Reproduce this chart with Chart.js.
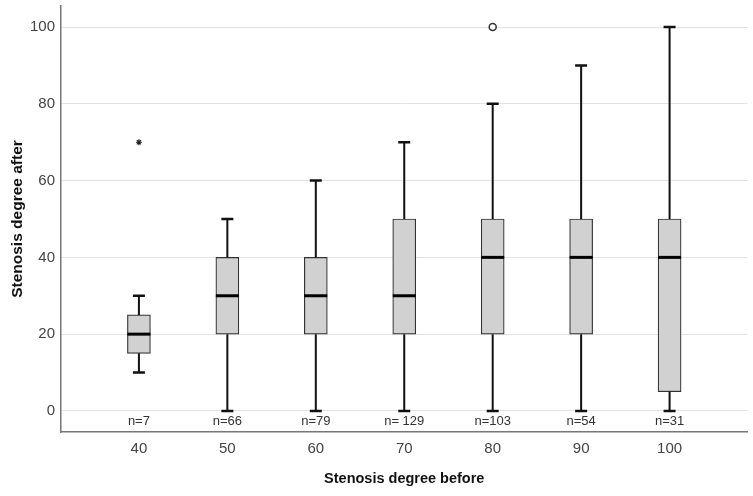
<!DOCTYPE html>
<html>
<head>
    <script src="https://cdn.jsdelivr.net/npm/chart.js@4"></script>
    <style>
        body { margin: 0; background: #fff; }
        #wrap { width: 753px; height: 496px; }
    </style>
</head>
<body>
 <div id="wrap">
  <canvas id="chart" width="753" height="496"></canvas>
 </div>
  <script>
    // stenosis degree before (groups)
    const before = [40, 50, 60, 70, 80, 90, 100];
    // five-number summaries of stenosis degree after
    const whiskerLow  = [10, 0, 0, 0, 0, 0, 0];
    const q1          = [15, 20, 20, 20, 20, 20, 5];
    const median      = [20, 30, 30, 30, 40, 40, 40];
    const q3          = [25, 40, 40, 50, 50, 50, 50];
    const whiskerHigh = [30, 50, 60, 70, 80, 90, 100];
    const counts = ['n=7', 'n=66', 'n=79', 'n= 129', 'n=103', 'n=54', 'n=31'];
    // outliers
    const extremeX = [40];
    const extremeY = [70];
    const outlierX = [80];
    const outlierY = [100];
    const yTicks = [0, 20, 40, 60, 80, 100];

    const boxPlugin = {
        id: 'boxExtras',
        afterDatasetsDraw(chart) {
            const ctx = chart.ctx;
            const xs = chart.scales.x, ys = chart.scales.y;
            const cap = 6, half = 11.5;
            ctx.save();
            ctx.strokeStyle = '#111';
            before.forEach((b, i) => {
                const x = xs.getPixelForValue(b);
                ctx.lineWidth = 2;
                ctx.beginPath();
                ctx.moveTo(x, ys.getPixelForValue(q3[i]));
                ctx.lineTo(x, ys.getPixelForValue(whiskerHigh[i]));
                ctx.moveTo(x, ys.getPixelForValue(q1[i]));
                ctx.lineTo(x, ys.getPixelForValue(whiskerLow[i]));
                ctx.stroke();
                ctx.lineWidth = 2.5;
                ctx.beginPath();
                ctx.moveTo(x - cap, ys.getPixelForValue(whiskerHigh[i]));
                ctx.lineTo(x + cap, ys.getPixelForValue(whiskerHigh[i]));
                ctx.moveTo(x - cap, ys.getPixelForValue(whiskerLow[i]));
                ctx.lineTo(x + cap, ys.getPixelForValue(whiskerLow[i]));
                ctx.stroke();
                ctx.lineWidth = 3;
                ctx.strokeStyle = '#000';
                ctx.beginPath();
                ctx.moveTo(x - half, ys.getPixelForValue(median[i]));
                ctx.lineTo(x + half, ys.getPixelForValue(median[i]));
                ctx.stroke();
                ctx.strokeStyle = '#111';
            });
            // n labels between zero line and the x axis
            ctx.fillStyle = '#333';
            ctx.font = '13px "Liberation Sans", Arial, sans-serif';
            ctx.textAlign = 'center';
            ctx.textBaseline = 'middle';
            const ny = (ys.getPixelForValue(0) + chart.chartArea.bottom) / 2;
            before.forEach((b, i) => {
                ctx.fillText(counts[i], xs.getPixelForValue(b), ny);
            });
            ctx.restore();
        }
    };

    const ctx = document.getElementById('chart');
    const chart = new Chart(ctx, {
        type: 'bar',
        data: {
            datasets: [{
                data: before.map((b, i) => ({ x: b, y: [q1[i], q3[i]] })),
                backgroundColor: '#d1d1d1',
                borderColor: '#333',
                borderWidth: 1.2,
                borderSkipped: false,
                barThickness: 23,
                order: 2
            }, {
                type: 'scatter',
                data: extremeX.map((x, i) => ({ x: x, y: extremeY[i] })),
                pointStyle: 'star',
                radius: 3,
                borderColor: '#222',
                borderWidth: 1.2,
                order: 1
            }, {
                type: 'scatter',
                data: outlierX.map((x, i) => ({ x: x, y: outlierY[i] })),
                pointStyle: 'circle',
                radius: 3.5,
                backgroundColor: '#fff',
                borderColor: '#333',
                borderWidth: 1.5,
                order: 1
            }]
        },
        plugins: [boxPlugin],
        options: {
            responsive: false,
            animation: false,
            layout: { padding: { top: 6, right: 5, left: 0, bottom: 0 } },
            plugins: {
                legend: { display: false },
                tooltip: { enabled: false }
            },
            scales: {
                x: {
                    type: 'linear',
                    min: 31.19,
                    max: 108.81,
                    offset: false,
                    afterBuildTicks: s => { s.ticks = before.map(v => ({ value: v })); },
                    afterFit: s => { s.height = 64; },
                    grid: { display: false, drawTicks: false },
                    border: { color: '#777', width: 1.5 },
                    ticks: {
                        color: '#444',
                        padding: 8,
                        font: { family: '"Liberation Sans", Arial, sans-serif', size: 15 }
                    },
                    title: {
                        display: true,
                        text: 'Stenosis degree before',
                        color: '#111',
                        padding: { top: 0, bottom: 8 },
                        font: { family: '"Liberation Sans", Arial, sans-serif', size: 14.5, weight: 'bold' }
                    }
                },
                y: {
                    min: -5.5,
                    max: 105.5,
                    afterBuildTicks: s => { s.ticks = yTicks.map(v => ({ value: v })); },
                    afterFit: s => { s.width = 61; s.paddingTop = 0; s.paddingBottom = 0; },
                    grid: { color: '#e3e3e3', drawTicks: false, lineWidth: 1 },
                    border: { color: '#777', width: 1.5 },
                    ticks: {
                        color: '#444',
                        padding: 6,
                        font: { family: '"Liberation Sans", Arial, sans-serif', size: 15 }
                    },
                    title: {
                        display: true,
                        text: 'Stenosis degree after',
                        color: '#111',
                        padding: { top: 8, bottom: 0 },
                        font: { family: '"Liberation Sans", Arial, sans-serif', size: 15.5, weight: 'bold' }
                    }
                }
            }
        }
    });
  </script>
</body>
</html>
